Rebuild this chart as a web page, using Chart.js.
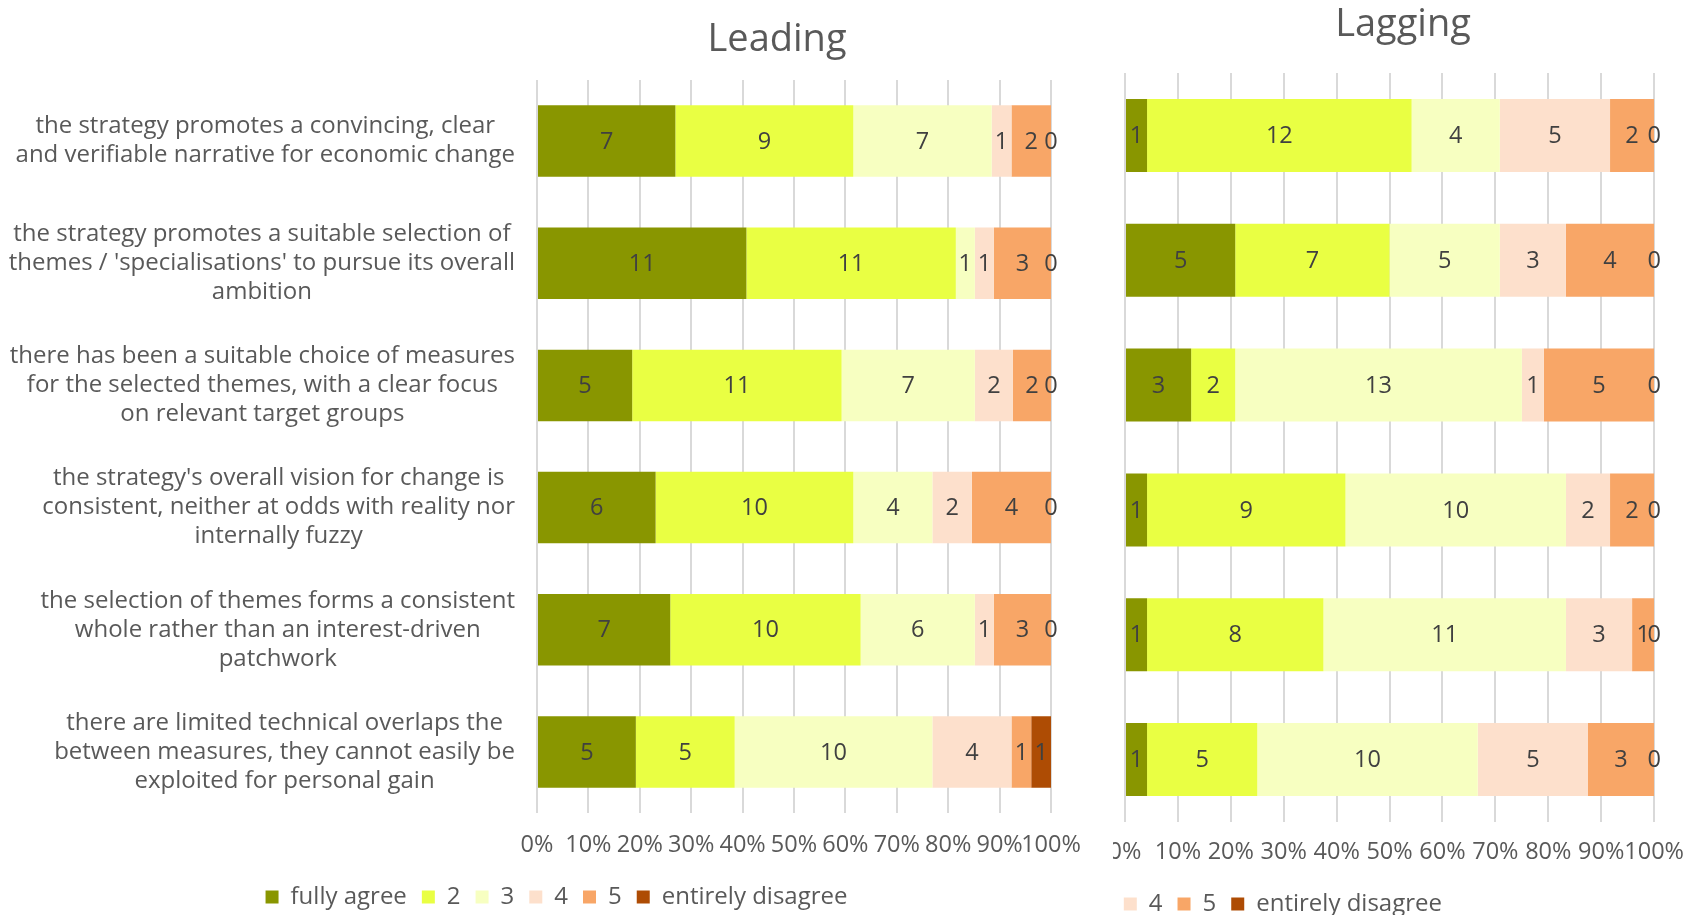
<!DOCTYPE html>
<html>
<head>
<meta charset="utf-8">
<title>Leading / Lagging</title>
<script src="https://cdn.jsdelivr.net/npm/chart.js@4.4.1/dist/chart.umd.min.js"></script>
<style>
	html, body { margin: 0; padding: 0; background: #fff; overflow: hidden; }
	#leadingWrap { position: absolute; left: 0; top: 0; width: 1113px; height: 915px; overflow: hidden; }
	#laggingWrap { position: absolute; left: 1113px; top: 0; width: 587px; height: 915px; overflow: hidden; }
	#laggingCanvas { position: absolute; left: -511px; top: 0; }
</style>
</head>
<body>
<div id="leadingWrap"><canvas id="leadingCanvas" width="1113" height="919"></canvas></div>
<div id="laggingWrap"><canvas id="laggingCanvas" width="1098" height="926"></canvas></div>
<script>
/* survey statements, top to bottom */
const statements = [
	['the strategy promotes a convincing, clear', 'and verifiable narrative for economic change'],
	['the strategy promotes a suitable selection of', "themes / 'specialisations' to pursue its overall", 'ambition'],
	['there has been a suitable choice of measures', 'for the selected themes, with a clear focus', 'on relevant target groups'],
	["the strategy's overall vision for change is", 'consistent, neither at odds with reality nor', 'internally fuzzy'],
	['the selection of themes forms a consistent', 'whole rather than an interest-driven', 'patchwork'],
	['there are limited technical overlaps the', 'between measures, they cannot easily be', 'exploited for personal gain']
];

const answers = ['fully agree', '2', '3', '4', '5', 'entirely disagree'];
const answerColors = ['#899600', '#E9FF43', '#F7FFC1', '#FDE0CC', '#F8A667', '#AE4C04'];
const percentTicks = ['0%', '10%', '20%', '30%', '40%', '50%', '60%', '70%', '80%', '90%', '100%'];

// number of answers per statement, leading regions
const leadingFullyAgree = [7, 11, 5, 6, 7, 5];
const leading2 = [9, 11, 11, 10, 10, 5];
const leading3 = [7, 1, 7, 4, 6, 10];
const leading4 = [1, 1, 2, 2, 1, 4];
const leading5 = [2, 3, 2, 4, 3, 1];
const leadingEntirelyDisagree = [0, 0, 0, 0, 0, 1];

// number of answers per statement, lagging regions
const laggingFullyAgree = [1, 5, 3, 1, 1, 1];
const lagging2 = [12, 7, 2, 9, 8, 5];
const lagging3 = [4, 5, 13, 10, 11, 10];
const lagging4 = [5, 3, 1, 2, 3, 5];
const lagging5 = [2, 4, 5, 2, 1, 3];
const laggingEntirelyDisagree = [0, 0, 0, 0, 0, 0];

const fontFamily = "'Open Sans', 'Noto Sans', sans-serif";
const textGrey = '#595959';

// panel title, drawn at a fixed spot (not centred on the canvas)
const panelTitlePlugin = {
	id: 'panelTitle',
	afterDraw(chart, args, opts) {
		const ctx = chart.ctx;
		ctx.save();
		ctx.font = opts.size + 'px ' + fontFamily;
		ctx.fillStyle = textGrey;
		ctx.textAlign = 'center';
		ctx.textBaseline = 'alphabetic';
		ctx.fillText(opts.text, opts.x, opts.y);
		ctx.restore();
	}
};

// statement text: block right aligned to the axis, lines centred inside the block
const statementLabelsPlugin = {
	id: 'statementLabels',
	afterDraw(chart, args, opts) {
		if (!opts.show) {
			return;
		}
		const ctx = chart.ctx;
		const yScale = chart.scales.y;
		const right = chart.chartArea.left - opts.gap;
		ctx.save();
		ctx.font = opts.size + 'px ' + fontFamily;
		ctx.fillStyle = textGrey;
		ctx.textAlign = 'center';
		ctx.textBaseline = 'middle';
		statements.forEach((lines, i) => {
			const blockWidth = Math.max(...lines.map((l) => ctx.measureText(l).width));
			const cx = right - blockWidth / 2;
			const cy = yScale.getPixelForValue(i);
			const top = cy - (lines.length - 1) * opts.lineHeight / 2;
			lines.forEach((line, k) => {
				ctx.fillText(line, cx, top + k * opts.lineHeight);
			});
		});
		ctx.restore();
	}
};

// raw counts written in the middle of every segment
const segmentCountsPlugin = {
	id: 'segmentCounts',
	afterDatasetsDraw(chart, args, opts) {
		const ctx = chart.ctx;
		ctx.save();
		ctx.font = opts.size + 'px ' + fontFamily;
		ctx.fillStyle = '#404040';
		ctx.textAlign = 'center';
		ctx.textBaseline = 'middle';
		chart.data.datasets.forEach((dataset, d) => {
			chart.getDatasetMeta(d).data.forEach((bar, i) => {
				ctx.fillText(String(dataset.counts[i]), (bar.x + bar.base) / 2, bar.y + 1);
			});
		});
		ctx.restore();
	}
};

function buildDatasets(series) {
	const totals = statements.map((s, i) => series.reduce((sum, counts) => sum + counts[i], 0));
	return series.map((counts, k) => {
		return {
			label: answers[k],
			counts: counts,
			data: counts.map((c, i) => c / totals[i] * 100),
			backgroundColor: answerColors[k],
			borderWidth: 0,
			barPercentage: 0.585,
			categoryPercentage: 1
		};
	});
}

// an empty side axis, only there to reserve room beside the plot
function spacerAxis(position, width) {
	return {
		type: 'category',
		position: position,
		stacked: true,
		grid: { display: false },
		ticks: { display: false },
		border: { display: false },
		afterFit: (scale) => { scale.width = width; }
	};
}

function buildChart(canvasId, series, panel) {
	return new Chart(document.getElementById(canvasId), {
		type: 'bar',
		data: {
			labels: statements.map((s) => s.join(' ')),
			datasets: buildDatasets(series)
		},
		plugins: [panelTitlePlugin, statementLabelsPlugin, segmentCountsPlugin],
		options: {
			indexAxis: 'y',
			responsive: false,
			animation: false,
			events: [],
			layout: {
				padding: { left: 0, right: 0, top: panel.top, bottom: 0 }
			},
			scales: {
				x: {
					stacked: true,
					min: 0,
					max: 100,
					afterFit: (scale) => { scale.height = panel.axisHeight; },
					ticks: {
						stepSize: 10,
						autoSkip: false,
						maxRotation: 0,
						padding: panel.tickPadding,
						color: textGrey,
						font: { family: fontFamily, size: 23.5 },
						callback: (value) => percentTicks[Math.round(value / 10)]
					},
					grid: { color: '#D9D9D9', lineWidth: 2, drawTicks: false },
					border: { display: false }
				},
				y: spacerAxis('left', panel.left),
				y2: spacerAxis('right', panel.right)
			},
			plugins: {
				tooltip: { enabled: false },
				title: { display: false },
				legend: {
					position: 'bottom',
					labels: {
						boxWidth: 13,
						boxHeight: 13,
						padding: 15,
						color: textGrey,
						font: { family: fontFamily, size: 24 }
					}
				},
				panelTitle: { text: panel.title, x: panel.titleX, y: panel.titleY, size: 38 },
				statementLabels: { show: panel.statements, gap: 22, lineHeight: 29, size: 24 },
				segmentCounts: { size: 23.5 }
			}
		}
	});
}

buildChart('leadingCanvas',
	[leadingFullyAgree, leading2, leading3, leading4, leading5, leadingEntirelyDisagree],
	{ title: 'Leading', titleX: 777, titleY: 51, left: 537, right: 62, top: 80,
		axisHeight: 57, tickPadding: 18, statements: true });

buildChart('laggingCanvas',
	[laggingFullyAgree, lagging2, lagging3, lagging4, lagging5, laggingEntirelyDisagree],
	{ title: 'Lagging', titleX: 801, titleY: 36, left: 523, right: 43, top: 73,
		axisHeight: 55, tickPadding: 16, statements: false });
</script>
</body>
</html>
